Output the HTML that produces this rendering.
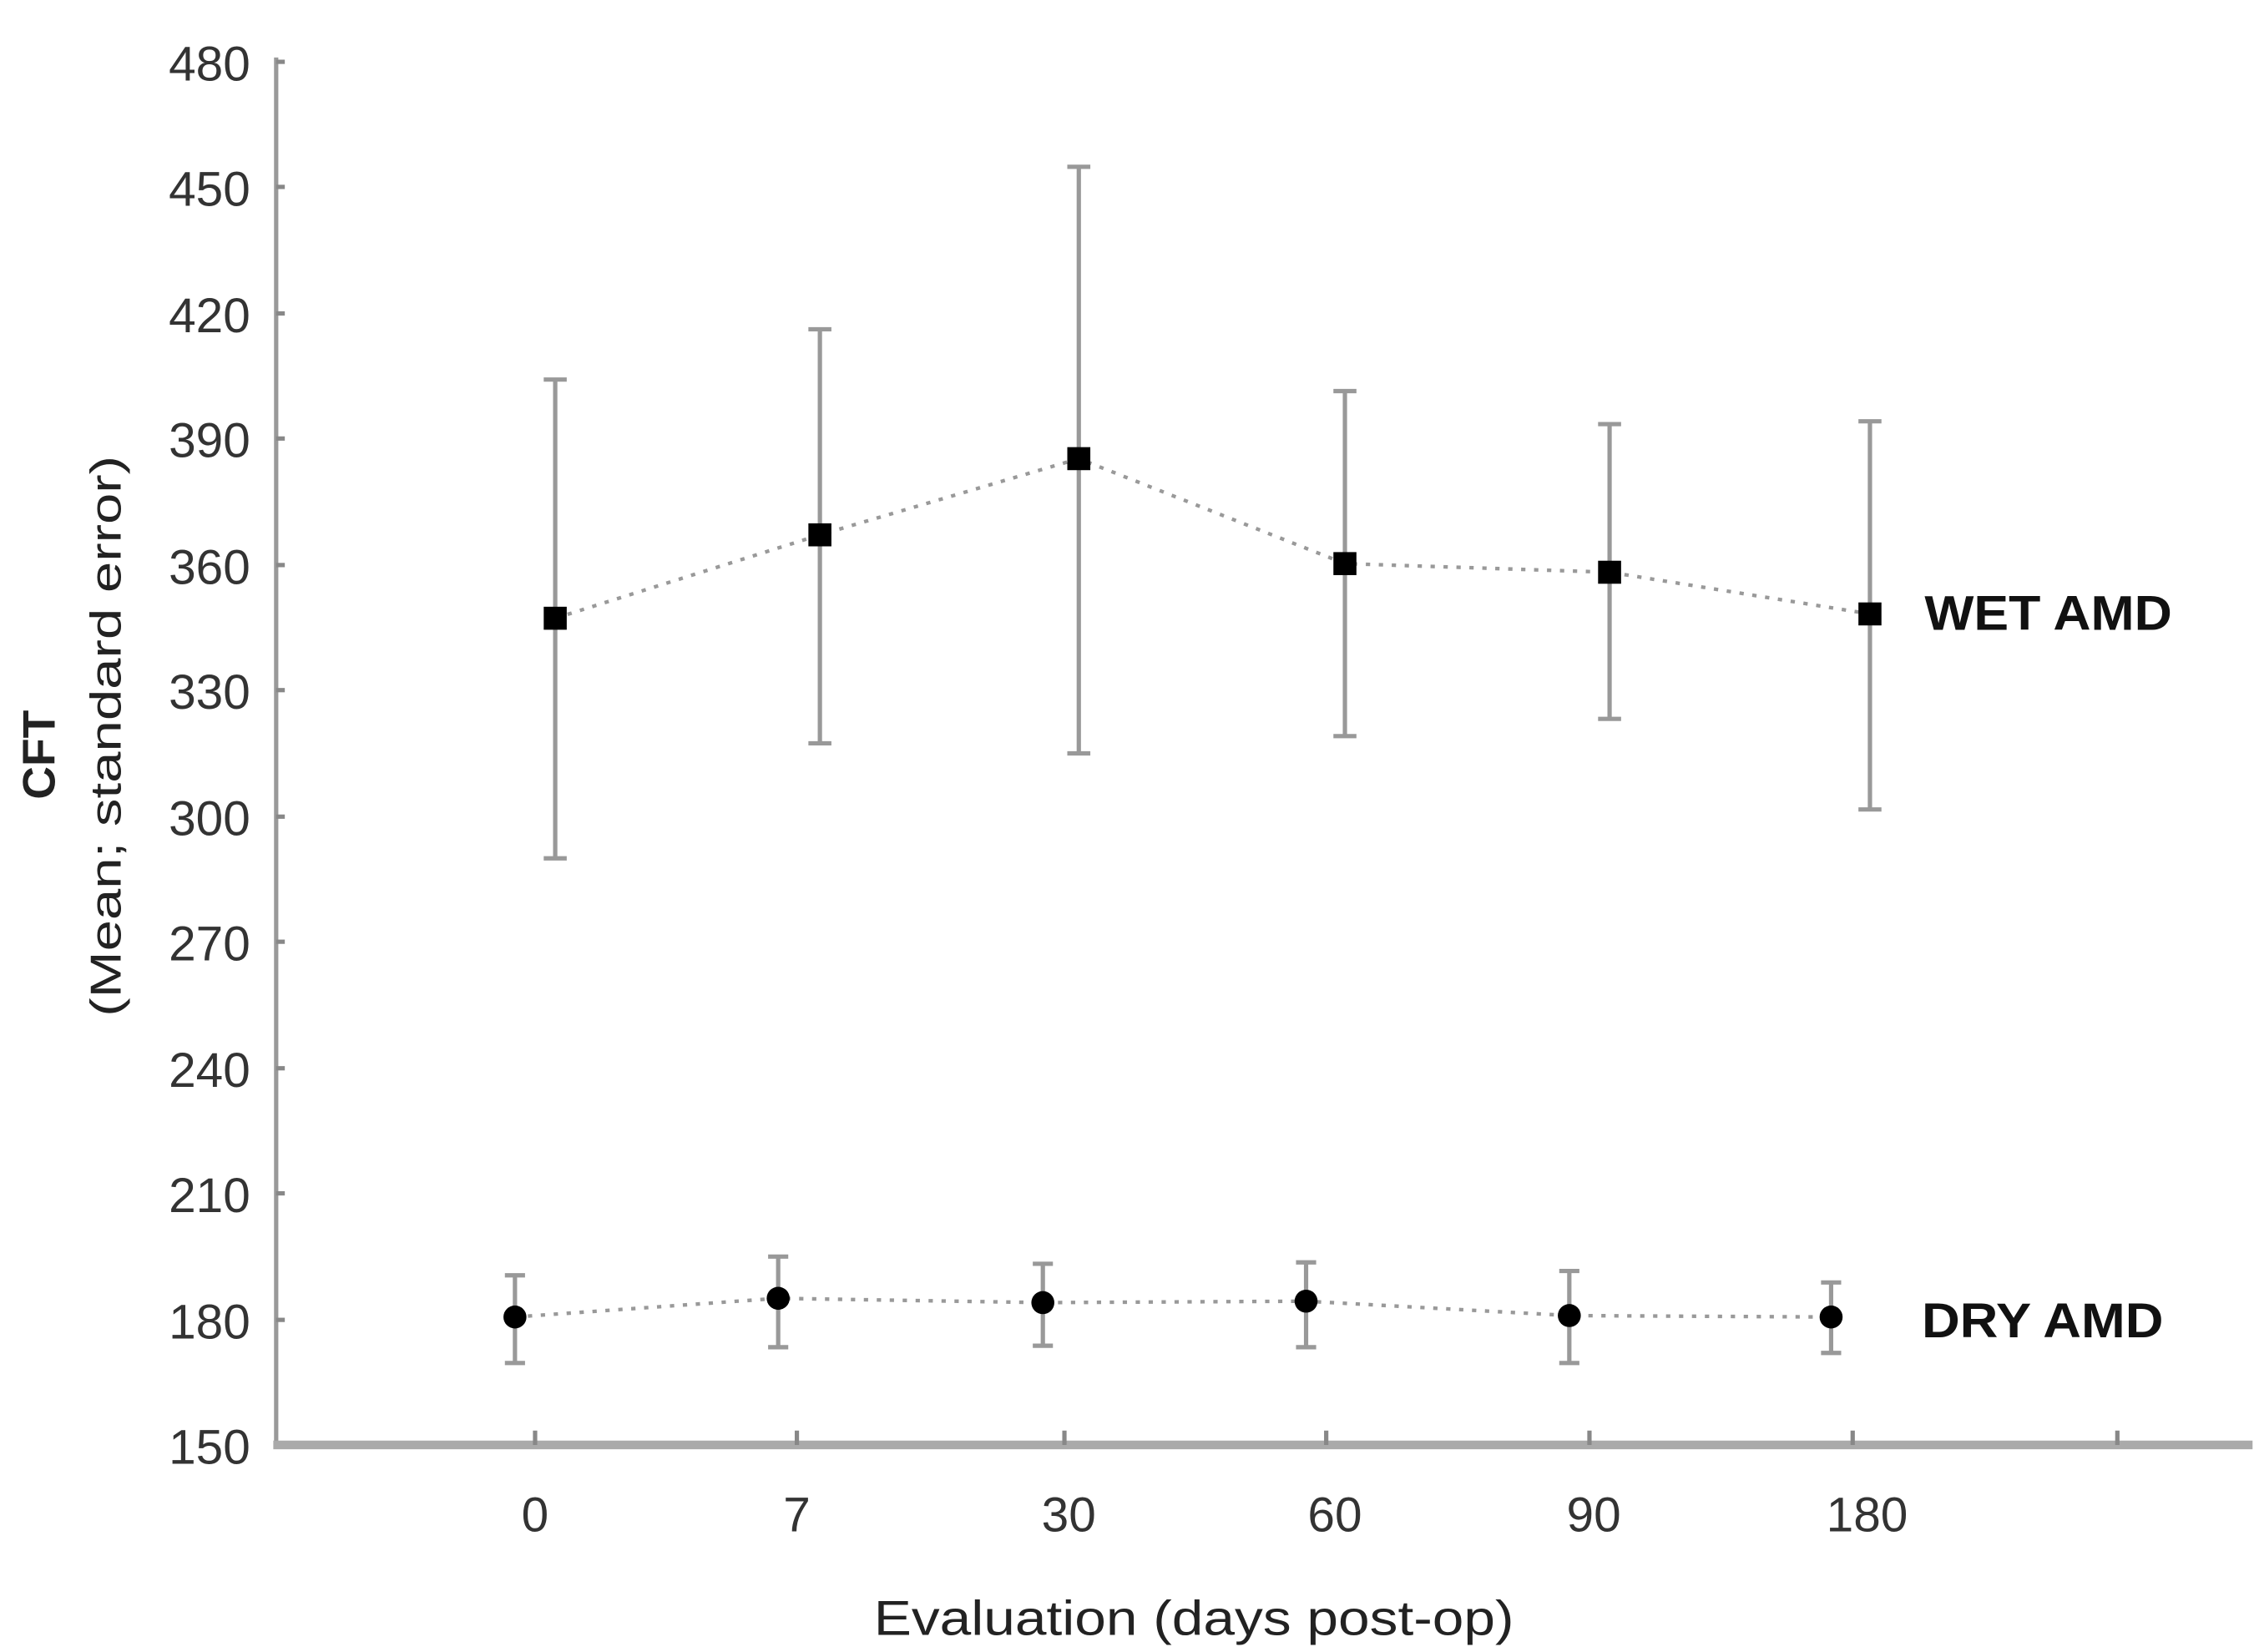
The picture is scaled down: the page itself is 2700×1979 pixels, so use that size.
<!DOCTYPE html>
<html><head><meta charset="utf-8"><style>html,body{margin:0;padding:0;background:#fff}svg{display:block}</style></head>
<body>
<svg width="2700" height="1979" viewBox="0 0 1567 1149" preserveAspectRatio="none" xmlns="http://www.w3.org/2000/svg" font-family="Liberation Sans, sans-serif">
<rect width="1567" height="1149" fill="#fff"/>
<line x1="192" y1="40" x2="192" y2="1007" stroke="#999" stroke-width="3"/>
<line x1="190" y1="1005" x2="1566" y2="1005" stroke="#aaa" stroke-width="6"/>
<g stroke="#888" stroke-width="3">
<line x1="192" y1="43" x2="198" y2="43"/><line x1="192" y1="130" x2="198" y2="130"/><line x1="192" y1="218" x2="198" y2="218"/><line x1="192" y1="305" x2="198" y2="305"/><line x1="192" y1="393" x2="198" y2="393"/><line x1="192" y1="480" x2="198" y2="480"/><line x1="192" y1="568" x2="198" y2="568"/><line x1="192" y1="655" x2="198" y2="655"/><line x1="192" y1="743" x2="198" y2="743"/><line x1="192" y1="830" x2="198" y2="830"/><line x1="192" y1="918" x2="198" y2="918"/>
<line x1="372" y1="995" x2="372" y2="1005"/><line x1="554" y1="995" x2="554" y2="1005"/><line x1="740" y1="995" x2="740" y2="1005"/><line x1="922" y1="995" x2="922" y2="1005"/><line x1="1105" y1="995" x2="1105" y2="1005"/><line x1="1288" y1="995" x2="1288" y2="1005"/><line x1="1472" y1="995" x2="1472" y2="1005"/>
</g>
<g font-size="34" fill="#333" text-anchor="end">
<text x="174" y="56">480</text><text x="174" y="143">450</text><text x="174" y="231">420</text><text x="174" y="318">390</text><text x="174" y="406">360</text><text x="174" y="493">330</text><text x="174" y="581">300</text><text x="174" y="668">270</text><text x="174" y="756">240</text><text x="174" y="843">210</text><text x="174" y="931">180</text><text x="174" y="1018">150</text>
</g>
<g font-size="34" fill="#333" text-anchor="middle">
<text x="372" y="1065">0</text><text x="554" y="1065">7</text><text x="743" y="1065">30</text><text x="928" y="1065">60</text><text x="1108" y="1065">90</text><text x="1298" y="1065">180</text>
</g>
<text x="830" y="1137" font-size="34" fill="#222" text-anchor="middle" textLength="445" lengthAdjust="spacingAndGlyphs">Evaluation (days post-op)</text>
<text transform="translate(38,525) rotate(-90)" font-size="32" font-weight="bold" fill="#222" text-anchor="middle">CFT</text>
<text transform="translate(84,512) rotate(-90)" font-size="30" fill="#222" text-anchor="middle" textLength="390" lengthAdjust="spacingAndGlyphs">(Mean; standard error)</text>
<text x="1338" y="438" font-size="34" font-weight="bold" fill="#111" textLength="172" lengthAdjust="spacingAndGlyphs">WET AMD</text>
<text x="1336" y="930" font-size="34" font-weight="bold" fill="#111" textLength="168" lengthAdjust="spacingAndGlyphs">DRY AMD</text>
<g stroke="#999" stroke-width="3" fill="none">
<path d="M386 264V597M378 264H394M378 597H394"/>
<path d="M570 229V517M562 229H578M562 517H578"/>
<path d="M750 116V524M742 116H758M742 524H758"/>
<path d="M935 272V512M927 272H943M927 512H943"/>
<path d="M1119 295V500M1111 295H1127M1111 500H1127"/>
<path d="M1300 293V563M1292 293H1308M1292 563H1308"/>
<path d="M358 887V948M351 887H365M351 948H365"/>
<path d="M541 874V937M534 874H548M534 937H548"/>
<path d="M725 879V936M718 879H732M718 936H732"/>
<path d="M908 878V937M901 878H915M901 937H915"/>
<path d="M1091 884V948M1084 884H1098M1084 948H1098"/>
<path d="M1273 892V941M1266 892H1280M1266 941H1280"/>
</g>
<g stroke="#999" stroke-width="2.5" stroke-dasharray="3 6" fill="none">
<polyline points="386,430 570,372 750,319 935,392 1119,398 1300,427"/>
<polyline points="358,916 541,903 725,906 908,905 1091,915 1273,916"/>
</g>
<g fill="#000">
<rect x="378" y="422" width="16" height="16"/><rect x="562" y="364" width="16" height="16"/><rect x="742" y="311" width="16" height="16"/><rect x="927" y="384" width="16" height="16"/><rect x="1111" y="390" width="16" height="16"/><rect x="1292" y="419" width="16" height="16"/>
<circle cx="358" cy="916" r="8"/><circle cx="541" cy="903" r="8"/><circle cx="725" cy="906" r="8"/><circle cx="908" cy="905" r="8"/><circle cx="1091" cy="915" r="8"/><circle cx="1273" cy="916" r="8"/>
</g>
</svg>
</body></html>
